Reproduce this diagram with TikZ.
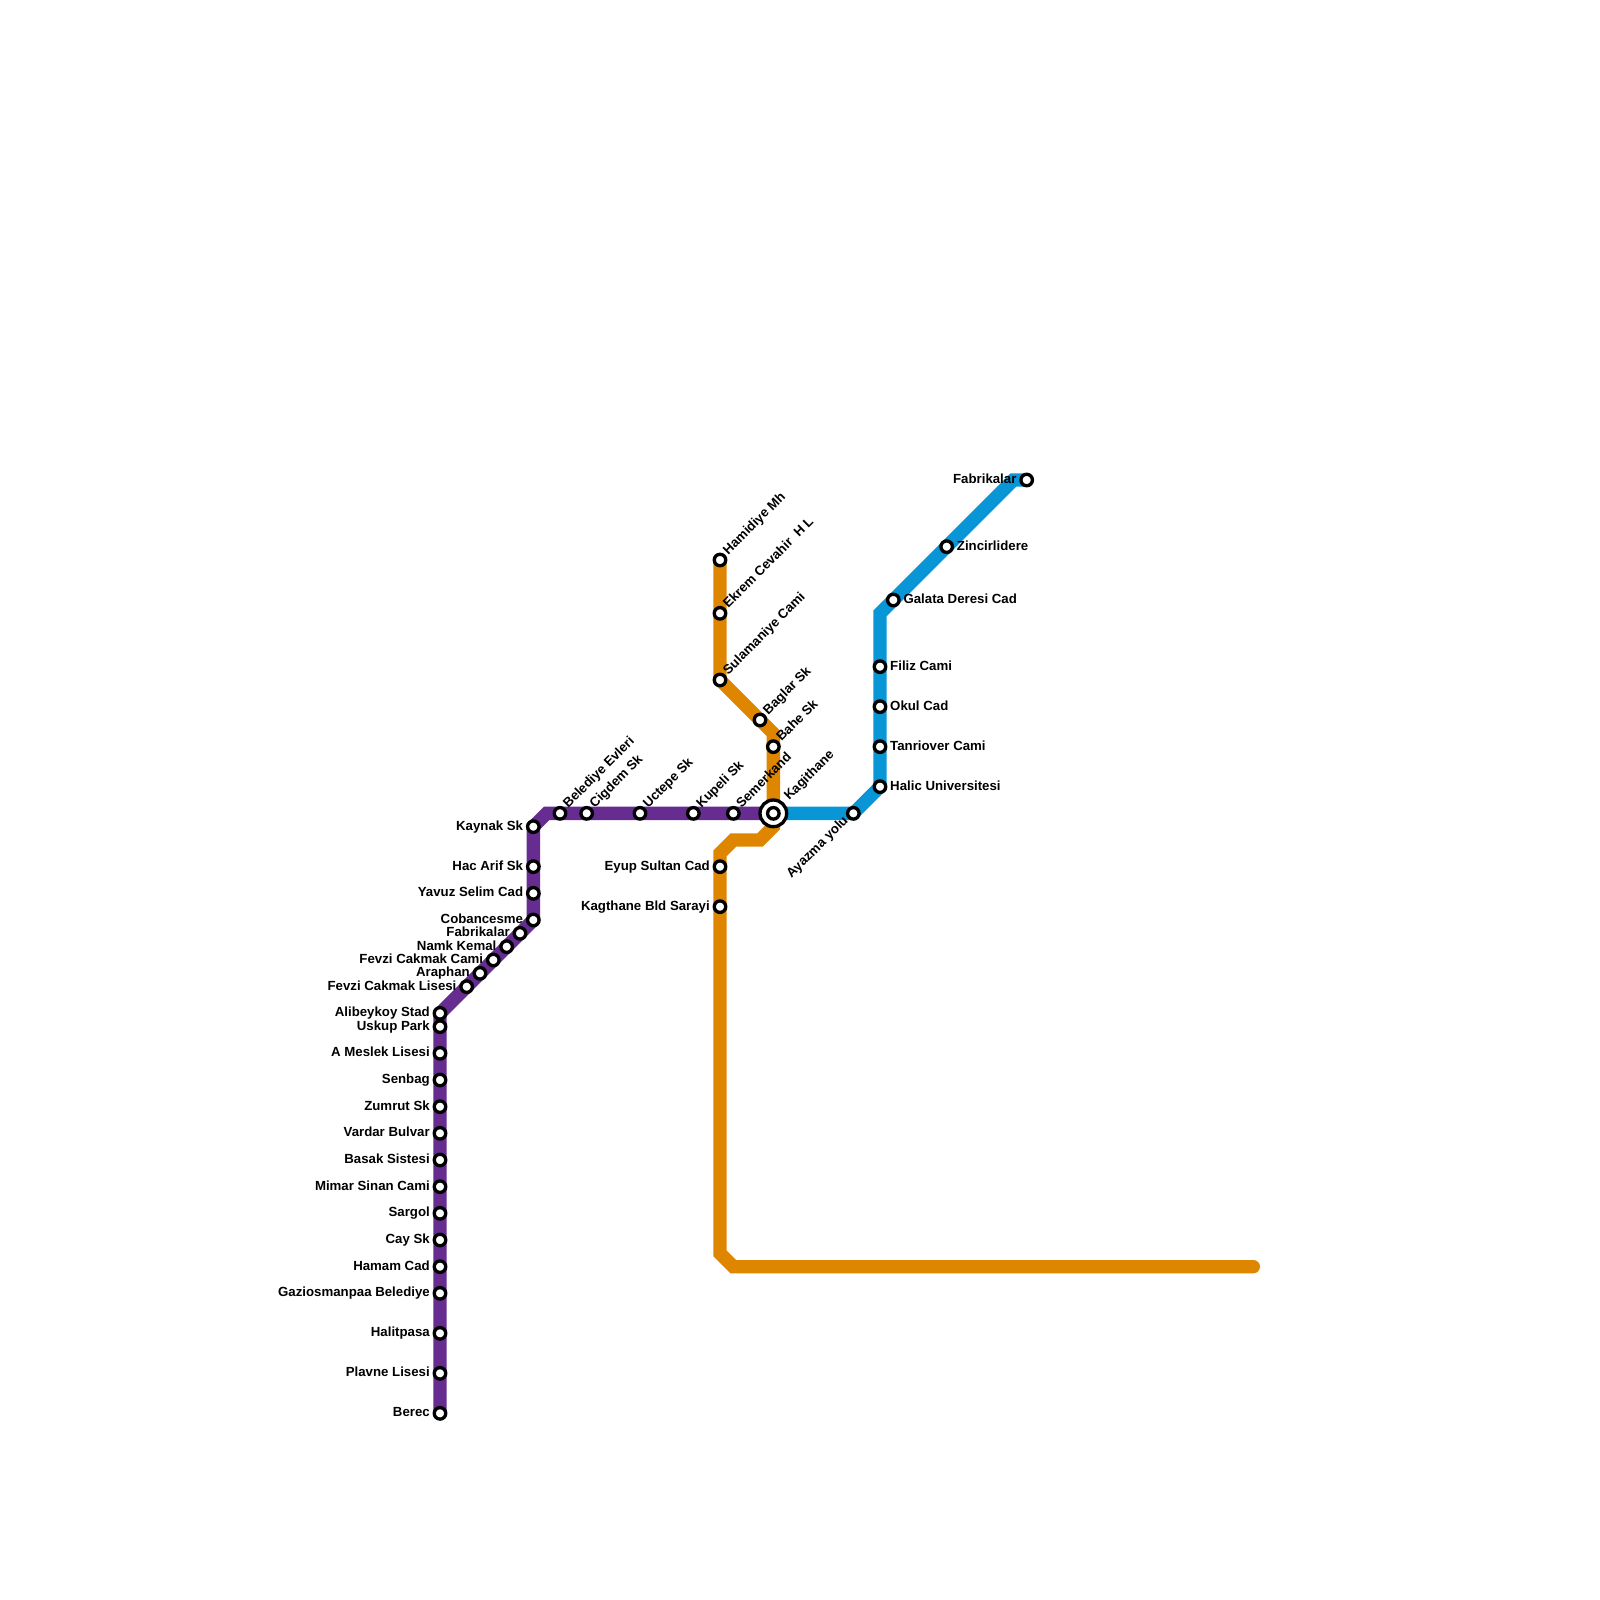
\documentclass[tikz,border=0pt]{standalone}
\usepackage{fontspec}
\setmainfont{Liberation Sans}
\usetikzlibrary{backgrounds}
\definecolor{purple_line}{HTML}{662C90}
\definecolor{orange_line}{HTML}{DF8600}
\definecolor{blue_line}{HTML}{0896D7}
\begin{document}
\begin{tikzpicture}[x=0.4cm, y=-0.4cm]
    % Estilos
    \tikzset{stn_style/.style={circle, draw=black, fill=white, line width=0.1cm, minimum size=0.345cm, inner sep=0pt, outer sep=0pt}}
    \tikzset{hub_style/.style={circle, draw=black, fill=white, line width=0.1cm, minimum size=0.8cm, inner sep=0pt, outer sep=0pt}}
    \tikzset{line_style/.style={line width=0.4cm, line cap=round}}
    \tikzset{text_style/.style={font=\fontsize{11.3}{12}\selectfont\bfseries, inner sep=0pt, text=black, text height=8pt, text depth=2pt}}
    \tikzset{left_style/.style={text_style, anchor=east, xshift=-0.3cm}}
    \tikzset{right_style/.style={text_style, anchor=west, xshift=0.3cm}}
    \tikzset{up_style/.style={text_style, anchor=west, rotate=45, xshift=0.27cm, yshift=0.03cm}}
    \tikzset{down_style/.style={text_style, anchor=east, rotate=45, xshift=-0.27cm, yshift=0.03cm}}

    \useasboundingbox (0,0) rectangle (120,120);

    % Estaciones de la linea morada
    \node[stn_style] (Berec) at (33,106) {};
    \node[stn_style] (Plavne) at (33,103) {};
    \node[stn_style] (Halitpasa) at (33,100) {};
    \node[stn_style] (Gaziosmanpasa) at (33,97) {};
    \node[stn_style] (Hamam) at (33,95) {};
    \node[stn_style] (Cay) at (33,93) {};
    \node[stn_style] (Sargol) at (33,91) {};
    \node[stn_style] (Mimar) at (33,89) {};
    \node[stn_style] (Basak) at (33,87) {};
    \node[stn_style] (Vardar) at (33,85) {};
    \node[stn_style] (Zumrut) at (33,83) {};
    \node[stn_style] (Senbag) at (33,81) {};
    \node[stn_style] (Meslek) at (33,79) {};
    \node[stn_style] (Uskup) at (33,77) {};
    \node[stn_style] (Alibeykoy) at (33,76) {};
    \node[stn_style] (FevziLisesi) at (35,74) {};
    \node[stn_style] (Araphan) at (36,73) {};
    \node[stn_style] (FevziCami) at (37,72) {};
    \node[stn_style] (Namk) at (38,71) {};
    \node[stn_style] (FabrikalarP) at (39,70) {};
    \node[stn_style] (Cobancesme) at (40,69) {};
    \node[stn_style] (Yavuz) at (40,67) {};
    \node[stn_style] (Hac) at (40,65) {};
    \node[stn_style] (Kaynak) at (40,62) {};
    \node[stn_style] (Belediye) at (42,61) {};
    \node[stn_style] (Cigdem) at (44,61) {};
    \node[stn_style] (Uctepe) at (48,61) {};
    \node[stn_style] (Kupeli) at (52,61) {};
    \node[stn_style] (Semerkand) at (55,61) {};

    % Estaciones de la linea naranja
    \node[stn_style] (Hamidiye) at (54,42) {};
    \node[stn_style] (Ekrem) at (54,46) {};
    \node[stn_style] (Sulamaniye) at (54,51) {};
    \node[stn_style] (Baglar) at (57,54) {};
    \node[stn_style] (Bahe) at (58,56) {};
    \node[stn_style] (Eyup) at (54,65) {};
    \node[stn_style] (Sarayi) at (54,68) {};

    % Estaciones de la linea azul
    \node[stn_style] (Ayazma) at (64,61) {};
    \node[stn_style] (Halic) at (66,59) {};
    \node[stn_style] (Tanriover) at (66,56) {};
    \node[stn_style] (Okul) at (66,53) {};
    \node[stn_style] (Filiz) at (66,50) {};
    \node[stn_style] (Galata) at (67,45) {};
    \node[stn_style] (Zincirlidere) at (71,41) {};
    \node[stn_style] (FabrikalarB) at (77,36) {};

    % Intercambiador
    \node[hub_style] (KagithaneOut) at (58,61) {};
    \node[stn_style] (Kagithane) at (58,61) {};

    % Puntos de quiebre
    \coordinate (p1) at (41,61);
    \coordinate (o1) at (58,55);
    \coordinate (o2) at (58,62);
    \coordinate (o3) at (57,63);
    \coordinate (o4) at (55,63);
    \coordinate (o5) at (54,64);
    \coordinate (o6) at (54,94);
    \coordinate (o7) at (55,95);
    \coordinate (o8) at (94,95);
    \coordinate (b1) at (66,46);
    \coordinate (b2) at (76,36);

    % Lineas
    \begin{scope}[on background layer]
        \draw[line_style, purple_line] (Berec.center) -- (Alibeykoy.center) -- (Cobancesme.center) -- (Kaynak.center) -- (p1) -- (Kagithane.center);
        \draw[line_style, orange_line] (Hamidiye.center) -- (Sulamaniye.center) -- (o1) -- (o2) -- (o3) -- (o4) -- (o5) -- (o6) -- (o7) -- (o8);
        \draw[line_style, blue_line] (Kagithane.center) -- (Ayazma.center) -- (Halic.center) -- (b1) -- (b2) -- (FabrikalarB.center);
    \end{scope}

    % Etiquetas a la izquierda
    \node[left_style] (l_berec) at (Berec) {Berec};
    \node[left_style] (l_plavne) at (Plavne) {Plavne Lisesi};
    \node[left_style] (l_halitpasa) at (Halitpasa) {Halitpasa};
    \node[left_style] (l_gazi) at (Gaziosmanpasa) {Gaziosmanpaa Belediye};
    \node[left_style] (l_hamam) at (Hamam) {Hamam Cad};
    \node[left_style] (l_cay) at (Cay) {Cay Sk};
    \node[left_style] (l_sargol) at (Sargol) {Sargol};
    \node[left_style] (l_mimar) at (Mimar) {Mimar Sinan Cami};
    \node[left_style] (l_basak) at (Basak) {Basak Sistesi};
    \node[left_style] (l_vardar) at (Vardar) {Vardar Bulvar};
    \node[left_style] (l_zumrut) at (Zumrut) {Zumrut Sk};
    \node[left_style] (l_senbag) at (Senbag) {Senbag};
    \node[left_style] (l_meslek) at (Meslek) {A Meslek Lisesi};
    \node[left_style] (l_uskup) at (Uskup) {Uskup Park};
    \node[left_style] (l_alibeykoy) at (Alibeykoy) {Alibeykoy Stad};
    \node[left_style] (l_fevzil) at (FevziLisesi) {Fevzi Cakmak Lisesi};
    \node[left_style] (l_araphan) at (Araphan) {Araphan};
    \node[left_style] (l_fevzic) at (FevziCami) {Fevzi Cakmak Cami};
    \node[left_style] (l_namk) at (Namk) {Namk Kemal};
    \node[left_style] (l_fabp) at (FabrikalarP) {Fabrikalar};
    \node[left_style] (l_coban) at (Cobancesme) {Cobancesme};
    \node[left_style] (l_yavuz) at (Yavuz) {Yavuz Selim Cad};
    \node[left_style] (l_hac) at (Hac) {Hac Arif Sk};
    \node[left_style] (l_kaynak) at (Kaynak) {Kaynak Sk};
    \node[left_style] (l_eyup) at (Eyup) {Eyup Sultan Cad};
    \node[left_style] (l_sarayi) at (Sarayi) {Kagthane Bld Sarayi};
    \node[left_style] (l_fabb) at (FabrikalarB) {Fabrikalar};

    % Etiquetas a la derecha
    \node[right_style] (l_halic) at (Halic) {Halic Universitesi};
    \node[right_style] (l_tanriover) at (Tanriover) {Tanriover Cami};
    \node[right_style] (l_okul) at (Okul) {Okul Cad};
    \node[right_style] (l_filiz) at (Filiz) {Filiz Cami};
    \node[right_style] (l_galata) at (Galata) {Galata Deresi Cad};
    \node[right_style] (l_zinc) at (Zincirlidere) {Zincirlidere};

    % Etiquetas inclinadas
    \node[up_style] (l_belediye) at (Belediye) {Belediye Evleri};
    \node[up_style] (l_cigdem) at (Cigdem) {Cigdem Sk};
    \node[up_style] (l_uctepe) at (Uctepe) {Uctepe Sk};
    \node[up_style] (l_kupeli) at (Kupeli) {Kupeli Sk};
    \node[up_style] (l_semerkand) at (Semerkand) {Semerkand};
    \node[up_style, xshift=0.33cm] (l_kagithane) at (Kagithane) {Kagithane};
    \node[up_style] (l_bahe) at (Bahe) {Bahe Sk};
    \node[up_style] (l_baglar) at (Baglar) {Baglar Sk};
    \node[up_style] (l_sulamaniye) at (Sulamaniye) {Sulamaniye Cami};
    \node[up_style] (l_ekrem) at (Ekrem) {Ekrem Cevahir\ \ H L};
    \node[up_style] (l_hamidiye) at (Hamidiye) {Hamidiye Mh};
    \node[down_style] (l_ayazma) at (Ayazma) {Ayazma yolu};
\end{tikzpicture}
\end{document}
